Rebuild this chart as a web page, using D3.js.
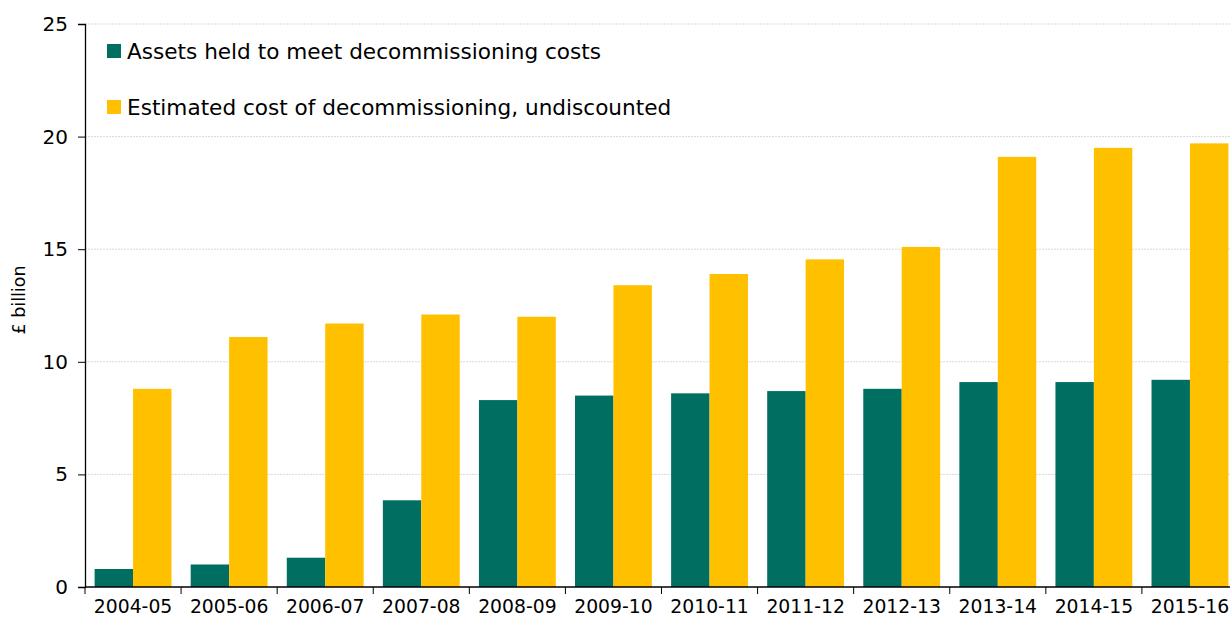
<!DOCTYPE html>
<html><head><meta charset="utf-8">
<script src="https://cdn.jsdelivr.net/npm/d3@7"></script>
<style>body{margin:0;background:#fff;} svg{display:block;font-family:"DejaVu Sans",sans-serif;}</style>
</head><body><svg id="c" width="1230" height="622"></svg>
<script>
const categories = ["2004-05","2005-06","2006-07","2007-08","2008-09","2009-10","2010-11","2011-12","2012-13","2013-14","2014-15","2015-16"];
const assets = [0.8,1.0,1.3,3.85,8.3,8.5,8.6,8.7,8.8,9.1,9.1,9.2];
const costs = [8.8,11.1,11.7,12.1,12.0,13.4,13.9,14.55,15.1,19.1,19.5,19.7];
const seriesNames = ["Assets held to meet decommissioning costs","Estimated cost of decommissioning, undiscounted"];
const colors = ["#006f62","#ffc000"];
const yTicks = [0,5,10,15,20,25];

(function(){
const svg = d3.select("#c");
const mLeft = 85, mTop = 24, mBottom = 587, mRight = 1238;
const x = d3.scaleBand().domain(categories).range([mLeft,mRight]).paddingInner(0).paddingOuter(0);
const bw = x.bandwidth();
const inner = d3.scaleBand().domain([0,1]).range([bw*0.1,bw*0.9]).padding(0);
const y = d3.scaleLinear().domain([0,25]).range([mBottom,mTop]);

svg.append("g").selectAll("line").data(yTicks.filter(d=>d>0)).join("line")
  .attr("x1",mLeft).attr("x2",1230).attr("y1",d=>y(d)).attr("y2",d=>y(d))
  .attr("stroke","#d9d9d9").attr("stroke-dasharray","2,1").attr("stroke-width",1);

const data = [assets,costs];
data.forEach((vals,i)=>{
  svg.append("g").selectAll("rect").data(vals).join("rect")
    .attr("x",(d,j)=>x(categories[j])+inner(i))
    .attr("width",inner.bandwidth())
    .attr("y",d=>y(d)).attr("height",d=>mBottom-y(d))
    .attr("fill",colors[i]);
});

const ya = svg.append("g").attr("transform",`translate(${mLeft},0)`)
  .call(d3.axisLeft(y).tickValues(yTicks).tickSize(7).tickPadding(10));
ya.select(".domain").attr("stroke","#000").attr("stroke-width",1.3);
ya.selectAll(".tick line").attr("stroke","#000");
ya.selectAll("text").attr("font-size",20).attr("fill","#000").attr("font-family","'DejaVu Sans',sans-serif");

const xa = svg.append("g").attr("transform",`translate(0,${mBottom})`)
  .call(d3.axisBottom(x).tickSize(0).tickPadding(13));
xa.select(".domain").attr("stroke","#000").attr("stroke-width",1.3).attr("d",`M${mLeft},0H1230`);
xa.selectAll("text").attr("font-size",18.8).attr("fill","#000").attr("font-family","'DejaVu Sans',sans-serif");
svg.append("g").selectAll("line").data(categories).join("line")
  .attr("x1",d=>x(d)).attr("x2",d=>x(d)).attr("y1",mBottom).attr("y2",mBottom+7)
  .attr("stroke","#000").attr("stroke-width",1);

svg.append("text").attr("transform","translate(25,300) rotate(-90)").attr("text-anchor","middle")
  .attr("font-size",17.5).attr("fill","#000").text("£ billion");

seriesNames.forEach((n,i)=>{
  const ly = 51 + i*56;
  svg.append("rect").attr("x",107).attr("y",ly-7).attr("width",14).attr("height",14).attr("fill",colors[i]);
  svg.append("text").attr("x",127).attr("y",ly).attr("dy","0.35em").attr("font-size",21.6).attr("fill","#000").text(n);
});
})();
</script></body></html>
